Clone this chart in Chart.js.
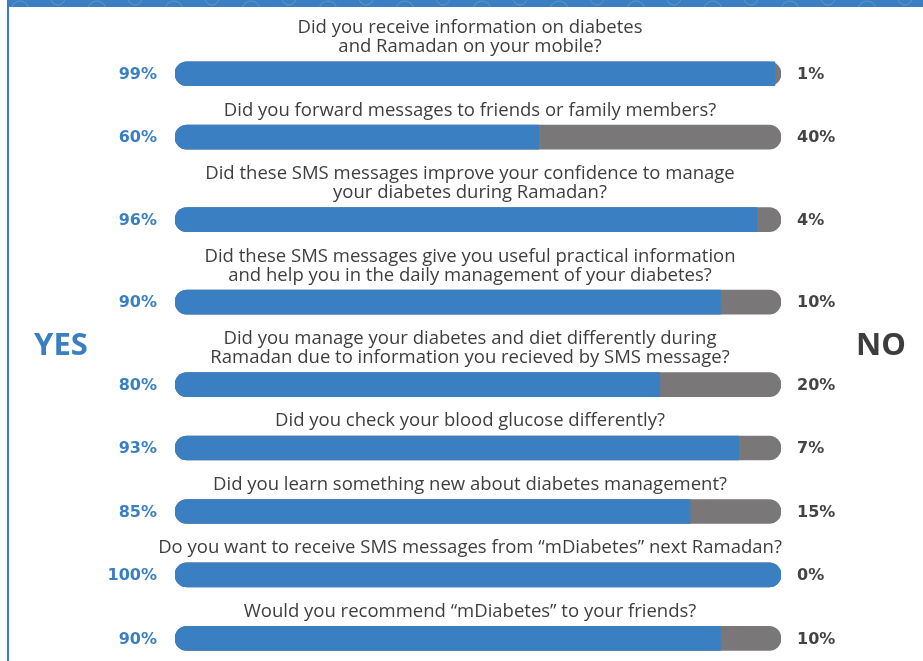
<!DOCTYPE html>
<html>
<head>
<meta charset="utf-8">
<script src="https://cdn.jsdelivr.net/npm/chart.js@4.4.0/dist/chart.umd.min.js"></script>
<style>
  html, body { margin: 0; padding: 0; background: #fff; }
</style>
</head>
<body>
<canvas id="sms-survey" width="923" height="661"></canvas>
<script>
const questions = [
  ['Did you receive information on diabetes', 'and Ramadan on your mobile?'],
  ['Did you forward messages to friends or family members?'],
  ['Did these SMS messages improve your confidence to manage', 'your diabetes during Ramadan?'],
  ['Did these SMS messages give you useful practical information', 'and help you in the daily management of your diabetes?'],
  ['Did you manage your diabetes and diet differently during', 'Ramadan due to information you recieved by SMS message?'],
  ['Did you check your blood glucose differently?'],
  ['Did you learn something new about diabetes management?'],
  ['Do you want to receive SMS messages from \u201cmDiabetes\u201d next Ramadan?'],
  ['Would you recommend \u201cmDiabetes\u201d to your friends?']
]
const yesValues = [99, 60, 96, 90, 80, 93, 85, 100, 90]
const noValues = [1, 40, 4, 10, 20, 7, 15, 0, 10]

const BLUE = '#3a7fc2'
const GRAY = '#7a7778'
const TEXT = '#3e3e3e'

// vertical layout in text-line units: question lines, then its bar
const TEXT_TO_BAR = 1.41
const BAR_TO_TEXT = 1.93
const textTop = []
const barPos = []
let cursor = 1.47
questions.forEach(lines => {
  textTop.push(cursor)
  const bar = cursor + lines.length - 1 + TEXT_TO_BAR
  barPos.push(bar)
  cursor = bar + BAR_TO_TEXT
})

const frame = {
  id: 'frame',
  beforeDraw (chart) {
    const ctx = chart.ctx
    ctx.save()
    ctx.fillStyle = '#fff'
    ctx.fillRect(0, 0, chart.width, chart.height)
    ctx.fillStyle = BLUE
    ctx.fillRect(7, 0, chart.width - 7, 7)
    ctx.fillRect(7, 0, 2, chart.height)
    // faint ornament on the top strip
    ctx.strokeStyle = 'rgba(255,255,255,0.18)'
    ctx.lineWidth = 1
    for (let x = 20; x < chart.width; x += 77) {
      ctx.beginPath()
      ctx.arc(x, 10, 9, Math.PI * 1.1, Math.PI * 1.9)
      ctx.stroke()
      ctx.beginPath()
      ctx.arc(x + 38, -2, 7, Math.PI * 0.1, Math.PI * 0.9)
      ctx.stroke()
    }
    ctx.restore()
  },
  afterDraw (chart) {
    const ctx = chart.ctx
    const area = chart.chartArea
    const yScale = chart.scales.y
    const centerX = (area.left + area.right) / 2 - 8
    ctx.save()
    ctx.textBaseline = 'middle'

    ctx.font = '18.5px "Open Sans"'
    ctx.fillStyle = TEXT
    ctx.textAlign = 'center'
    questions.forEach((lines, i) => {
      lines.forEach((line, k) => {
        ctx.fillText(line, centerX, yScale.getPixelForValue(textTop[i] + k))
      })
    })

    ctx.font = 'bold 16px "DejaVu Sans"'
    barPos.forEach((pos, i) => {
      const y = yScale.getPixelForValue(pos) + 1
      ctx.fillStyle = BLUE
      ctx.textAlign = 'right'
      ctx.fillText(yesValues[i] + '%', area.left - 18, y)
      ctx.fillStyle = '#444'
      ctx.textAlign = 'left'
      ctx.fillText(noValues[i] + '%', area.right + 16, y)
    })

    const midY = (area.top + area.bottom) / 2 + 16
    ctx.font = 'bold 31px "Open Sans"'
    ctx.textAlign = 'center'
    ctx.fillStyle = BLUE
    ctx.fillText('YES', 61, midY)
    ctx.fillStyle = '#3d3d3d'
    ctx.fillText('NO', chart.width - 42, midY)
    ctx.restore()
  }
}

const surveyChart = new Chart(document.getElementById('sms-survey'), {
  type: 'bar',
  data: {
    datasets: [
      {
        label: 'Yes',
        data: yesValues.map((v, i) => ({ x: v, y: barPos[i] })),
        backgroundColor: BLUE,
        borderSkipped: false,
        borderRadius: ctx => {
          const end = noValues[ctx.dataIndex] === 0 ? 12 : 0
          return { topLeft: 12, bottomLeft: 12, topRight: end, bottomRight: end }
        },
        barThickness: 24,
        grouped: false
      },
      {
        // grey track behind the blue bar, its visible part is the "no" share
        label: 'No',
        data: yesValues.map((v, i) => ({ x: v + noValues[i], y: barPos[i] })),
        backgroundColor: GRAY,
        borderSkipped: false,
        borderRadius: 12,
        barThickness: 24,
        grouped: false
      }
    ]
  },
  options: {
    indexAxis: 'y',
    responsive: false,
    animation: false,
    layout: {
      padding: { left: 175, right: 142, top: 0, bottom: 0 }
    },
    scales: {
      x: { type: 'linear', min: 0, max: 100, display: false },
      y: { type: 'linear', min: 0, max: 661 / 19, reverse: true, offset: false, display: false }
    },
    plugins: {
      legend: { display: false },
      tooltip: { enabled: false }
    }
  },
  plugins: [frame]
})
</script>
</body>
</html>
